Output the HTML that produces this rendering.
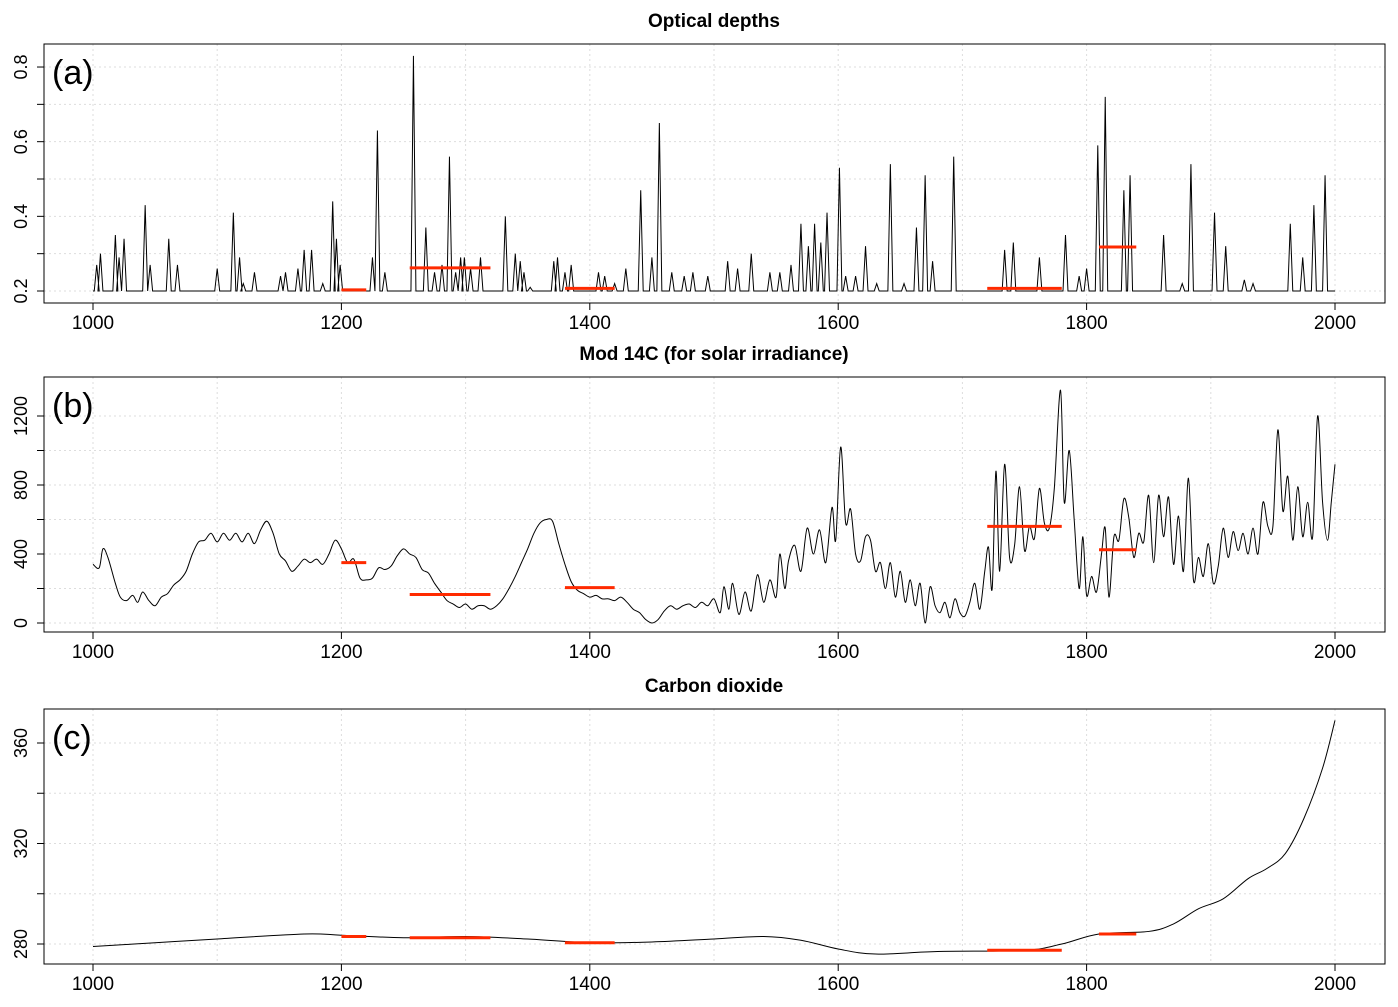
<!DOCTYPE html>
<html><head><meta charset="utf-8">
<style>
body{margin:0;background:#fff;}
svg text{font-family:"Liberation Sans",Arial,sans-serif;}
</style></head>
<body>
<svg id="chart" width="1398" height="1002" xmlns="http://www.w3.org/2000/svg"></svg>
<script>
// ---- data ----
const spikeYears = [1003,1006,1018,1021,1025,1042,1046,1061,1068,1100,1113,1118,1121,1130,1151,1155,1165,1170,1176,1185,1193,1196,1199,1225,1229,1235,1258,1268,1275,1281,1287,1292,1296,1299,1304,1312,1332,1340,1344,1347,1352,1371,1374,1380,1385,1407,1412,1420,1429,1441,1450,1456,1466,1476,1483,1495,1511,1519,1530,1545,1553,1562,1570,1576,1581,1586,1591,1601,1606,1614,1622,1631,1642,1653,1663,1670,1676,1693,1734,1741,1762,1783,1794,1800,1809,1815,1830,1835,1862,1877,1884,1903,1912,1927,1934,1964,1974,1983,1992];
const spikeValues = [0.27,0.30,0.35,0.29,0.34,0.43,0.27,0.34,0.27,0.26,0.41,0.29,0.22,0.25,0.24,0.25,0.26,0.31,0.31,0.22,0.44,0.34,0.27,0.29,0.63,0.25,0.83,0.37,0.25,0.27,0.56,0.25,0.29,0.29,0.26,0.29,0.40,0.30,0.28,0.25,0.21,0.28,0.29,0.25,0.27,0.25,0.24,0.22,0.26,0.47,0.29,0.65,0.25,0.24,0.25,0.24,0.28,0.26,0.30,0.25,0.25,0.27,0.38,0.32,0.38,0.33,0.41,0.53,0.24,0.24,0.32,0.22,0.54,0.22,0.37,0.51,0.28,0.56,0.31,0.33,0.29,0.35,0.24,0.26,0.59,0.72,0.47,0.51,0.35,0.22,0.54,0.41,0.32,0.23,0.22,0.38,0.29,0.43,0.51];
const c14Years = [1000,1005,1008,1012,1018,1022,1027,1032,1036,1040,1045,1050,1055,1060,1065,1070,1075,1080,1085,1090,1095,1100,1105,1110,1115,1120,1125,1130,1135,1140,1145,1150,1155,1160,1165,1170,1175,1180,1185,1190,1195,1200,1205,1210,1215,1220,1225,1230,1235,1240,1245,1250,1255,1260,1265,1270,1275,1280,1285,1290,1295,1300,1305,1310,1315,1320,1325,1330,1335,1340,1345,1350,1355,1360,1365,1370,1375,1380,1385,1390,1395,1400,1405,1410,1415,1420,1425,1430,1435,1440,1445,1450,1455,1460,1465,1470,1475,1480,1485,1490,1495,1500,1505,1508,1512,1515,1520,1525,1530,1535,1540,1545,1550,1553,1557,1560,1565,1570,1575,1580,1585,1590,1595,1598,1602,1606,1610,1614,1618,1622,1626,1630,1634,1638,1642,1646,1650,1654,1658,1662,1666,1670,1674,1678,1682,1686,1690,1694,1698,1702,1706,1710,1714,1718,1721,1724,1727,1730,1734,1738,1742,1746,1750,1754,1758,1762,1766,1770,1774,1779,1782,1786,1790,1794,1797,1800,1804,1808,1812,1815,1818,1822,1826,1830,1834,1838,1842,1846,1850,1854,1858,1862,1866,1870,1874,1878,1882,1886,1890,1894,1898,1902,1906,1910,1914,1918,1922,1926,1930,1934,1938,1942,1946,1950,1954,1958,1962,1966,1970,1974,1978,1982,1986,1990,1994,1997,2000];
const c14Values = [340,320,430,380,230,150,130,160,120,180,130,100,150,170,220,250,300,400,470,480,520,470,520,480,520,470,520,460,540,590,520,400,360,300,330,370,350,370,340,400,480,430,350,370,260,250,260,320,310,330,390,430,400,380,310,290,230,180,130,110,90,110,80,100,100,80,100,140,200,270,350,430,520,580,600,590,460,340,240,190,170,150,160,140,140,130,150,120,80,60,20,0,20,70,100,80,100,110,90,120,100,140,60,210,80,230,50,180,70,280,120,250,150,400,200,360,450,300,550,400,540,350,670,480,1020,580,660,400,360,500,480,300,350,200,350,150,300,120,250,100,230,0,210,100,60,120,30,140,60,40,120,230,80,300,440,200,880,300,920,380,450,790,420,560,490,780,580,550,780,1350,700,1000,600,200,500,160,270,180,400,550,150,500,480,720,610,380,520,470,740,350,740,500,730,340,620,300,840,250,380,270,460,230,330,550,380,530,420,520,400,550,400,700,560,560,1120,650,850,480,790,500,700,500,1200,700,480,700,920];
const co2Years = [1000,1050,1100,1170,1200,1250,1300,1350,1400,1450,1500,1540,1570,1600,1630,1680,1750,1780,1810,1850,1870,1890,1910,1930,1945,1960,1975,1990,2000];
const co2Values = [279,280.5,282,284,283.5,282.5,283,282,280.5,280.8,282,283,281.5,278,276,277,277.5,280,284,285,288,294,298,306,310,316,330,350,369];
const periodStarts = [1200,1255,1380,1720,1810];
const periodEnds = [1220,1320,1420,1780,1840];
const periodOD = [0.203,0.262,0.207,0.207,0.318];
const periodC14 = [350,165,205,560,425];
const periodCO2 = [283,282.5,280.5,277.5,284];
const xTicks = [1000,1200,1400,1600,1800,2000];

const svg = document.getElementById('chart');
const NS = 'http://www.w3.org/2000/svg';
function mk(tag, attrs, parent){const e=document.createElementNS(NS,tag);for(const k in attrs)e.setAttribute(k,attrs[k]);(parent||svg).appendChild(e);return e;}
const xs = y => 93 + (y-1000)*1.242;

const panels = [
 {name:'optical-depths', title:'Optical depths', letter:'(a)', top:44, bot:303, ty:21,
  ymap:v=>291-(v-0.2)*373.3, ticks:[0.2,0.3,0.4,0.5,0.6,0.7,0.8], labels:[0.2,0.4,0.6,0.8], pv:periodOD},
 {name:'mod-14c', title:'Mod 14C (for solar irradiance)', letter:'(b)', top:377, bot:632, ty:354,
  ymap:v=>623-v*0.1725, ticks:[0,200,400,600,800,1000,1200], labels:[0,400,800,1200], pv:periodC14},
 {name:'carbon-dioxide', title:'Carbon dioxide', letter:'(c)', top:709, bot:964, ty:686,
  ymap:v=>944-(v-280)*2.5125, ticks:[280,300,320,340,360], labels:[280,320,360], pv:periodCO2}
];

panels.forEach((p,i)=>{
  const g = mk('g',{});
  
  
  // grid
  for(let yr=1000; yr<=2000; yr+=100){
    const l=mk('line',{x1:xs(yr),x2:xs(yr),y1:p.top,y2:p.bot,stroke:'#ddd','stroke-dasharray':'2,3'},g);
    
    
  }
  p.ticks.forEach(t=>{
    const y=p.ymap(t);
    const l=mk('line',{x1:44,x2:1385,y1:y,y2:y,stroke:'#ddd','stroke-dasharray':'2,3'},g);
    
    
    const tk=mk('line',{x1:37,x2:44,y1:y,y2:y,stroke:'#000'},g);
    
    
  });
  p.labels.forEach(t=>{
    const y=p.ymap(t);
    const tx=mk('text',{x:27,y:y,'font-size':18,'text-anchor':'middle',transform:`rotate(-90 27 ${y})`},g);
    tx.textContent=String(t);
    
    
  });
  // box
  const box=mk('rect',{x:44,y:p.top,width:1341,height:p.bot-p.top,fill:'none',stroke:'#000'},g);
  
  
  xTicks.forEach(t=>{
    const tk=mk('line',{x1:xs(t),x2:xs(t),y1:p.bot,y2:p.bot+7,stroke:'#000'},g);
    
    
    const tx=mk('text',{x:xs(t),y:p.bot+26,'font-size':19,'text-anchor':'middle'},g);
    tx.textContent=String(t);
    
    
  });
  const title=mk('text',{x:714,y:p.ty+6,'font-size':19,'font-weight':'bold','text-anchor':'middle'},g);
  title.textContent=p.title;
  
  
  const let_=mk('text',{x:52,y:p.top+40,'font-size':34},g);
  let_.textContent=p.letter;
  
  
  // series
  let pts=[];
  if(i===0){
    pts.push([xs(1000),p.ymap(0.2)]);
    spikeYears.forEach((yr,k)=>{
      pts.push([xs(yr-2),p.ymap(0.2)]);
      pts.push([xs(yr),p.ymap(spikeValues[k])]);
      pts.push([xs(yr+2),p.ymap(0.2)]);
    });
    pts.push([xs(2000),p.ymap(0.2)]);
  } else if(i===1){
    c14Years.forEach((yr,k)=>pts.push([xs(yr),p.ymap(c14Values[k])]));
  } else {
    co2Years.forEach((yr,k)=>pts.push([xs(yr),p.ymap(co2Values[k])]));
  }
  let d='M'+pts[0][0]+','+pts[0][1];
  if(i===0){ for(let k=1;k<pts.length;k++) d+=' L'+pts[k][0]+','+pts[k][1]; }
  else {
    for(let k=0;k<pts.length-1;k++){
      const p0=pts[Math.max(0,k-1)],p1=pts[k],p2=pts[k+1],p3=pts[Math.min(pts.length-1,k+2)];
      const c1=[p1[0]+(p2[0]-p0[0])/6,p1[1]+(p2[1]-p0[1])/6];
      const c2=[p2[0]-(p3[0]-p1[0])/6,p2[1]-(p3[1]-p1[1])/6];
      d+=` C${c1[0]},${c1[1]} ${c2[0]},${c2[1]} ${p2[0]},${p2[1]}`;
    }
  }
  const line=mk('path',{d:d,fill:'none',stroke:'#000','stroke-width':1},g);
  
  
  periodStarts.forEach((s,k)=>{
    const y=p.ymap(p.pv[k]);
    const r=mk('line',{x1:xs(s),x2:xs(periodEnds[k]),y1:y,y2:y,stroke:'#ff2a00','stroke-width':3},g);
    
    
  });
});
</script>
</body></html>
